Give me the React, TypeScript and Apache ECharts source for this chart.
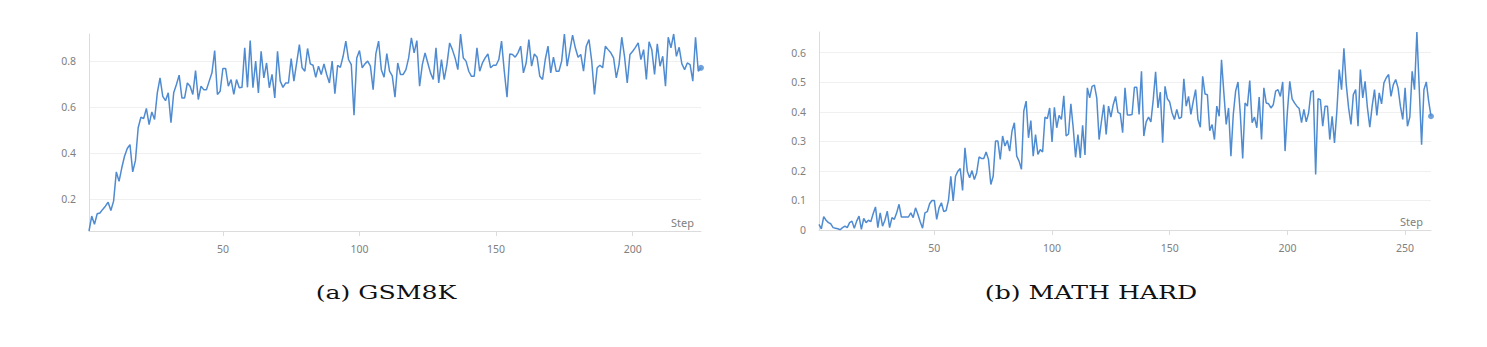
import React, { useEffect, useRef } from "react";
import * as echarts from "echarts";

const gsm8kValues: number[] = [
  0.06, 0.125, 0.089, 0.135, 0.138, 0.154, 0.168, 0.185, 0.149, 0.19,
  0.317, 0.276, 0.335, 0.385, 0.419, 0.436, 0.317, 0.367, 0.509, 0.555,
  0.549, 0.593, 0.523, 0.578, 0.545, 0.661, 0.726, 0.646, 0.627, 0.661,
  0.531, 0.661, 0.697, 0.738, 0.639, 0.639, 0.704, 0.69, 0.654, 0.758,
  0.632, 0.69, 0.675, 0.675, 0.712, 0.748, 0.845, 0.654, 0.668, 0.767,
  0.767, 0.69, 0.719, 0.654, 0.719, 0.683, 0.685, 0.857, 0.685, 0.888,
  0.683, 0.799, 0.661, 0.842, 0.726, 0.791, 0.683, 0.741, 0.639, 0.842,
  0.712, 0.685, 0.704, 0.704, 0.81, 0.712, 0.791, 0.871, 0.77, 0.755,
  0.854, 0.787, 0.781, 0.729, 0.777, 0.741, 0.787, 0.741, 0.704, 0.799,
  0.657, 0.781, 0.772, 0.82, 0.886, 0.806, 0.784, 0.564, 0.813, 0.845,
  0.77, 0.787, 0.799, 0.777, 0.675, 0.832, 0.886, 0.762, 0.729, 0.832,
  0.755, 0.735, 0.642, 0.791, 0.741, 0.741, 0.762, 0.813, 0.9, 0.835,
  0.888, 0.69, 0.784, 0.835, 0.791, 0.748, 0.719, 0.857, 0.704, 0.806,
  0.719, 0.784, 0.878, 0.849, 0.813, 0.762, 0.917, 0.813, 0.799, 0.755,
  0.733, 0.733, 0.857, 0.755, 0.791, 0.813, 0.83, 0.77, 0.781, 0.781,
  0.806, 0.886, 0.755, 0.642, 0.83, 0.828, 0.816, 0.835, 0.864, 0.748,
  0.791, 0.893, 0.777, 0.83, 0.816, 0.733, 0.719, 0.806, 0.864, 0.748,
  0.816, 0.755, 0.755, 0.799, 0.917, 0.777, 0.845, 0.912, 0.857, 0.816,
  0.828, 0.755, 0.864, 0.893, 0.799, 0.654, 0.77, 0.781, 0.77, 0.864,
  0.849, 0.835, 0.813, 0.726, 0.784, 0.903, 0.82, 0.704, 0.828, 0.842,
  0.859, 0.878, 0.806, 0.849, 0.719, 0.883, 0.849, 0.741, 0.874, 0.777,
  0.82, 0.69, 0.903, 0.857, 0.917, 0.82, 0.859, 0.787, 0.762, 0.791,
  0.784, 0.712, 0.903, 0.755, 0.77,
];

const mathHardValues: number[] = [
  0.019, 0.004, 0.045, 0.033, 0.025, 0.021, 0.008, 0.006, 0.004, 0.001,
  0.008, 0.013, 0.008, 0.025, 0.03, 0.006, 0.03, 0.047, 0.002, 0.039,
  0.025, 0.033, 0.028, 0.055, 0.078, 0.008, 0.058, 0.013, 0.033, 0.064,
  0.008, 0.042, 0.036, 0.058, 0.087, 0.044, 0.044, 0.044, 0.044, 0.058,
  0.042, 0.075, 0.053, 0.028, 0.006, 0.058, 0.062, 0.089, 0.1, 0.1,
  0.036, 0.075, 0.092, 0.062, 0.066, 0.1, 0.182, 0.098, 0.182, 0.199,
  0.208, 0.134, 0.278, 0.199, 0.177, 0.201, 0.171, 0.194, 0.247, 0.242,
  0.242, 0.264, 0.239, 0.154, 0.182, 0.301, 0.301, 0.239, 0.318, 0.284,
  0.303, 0.267, 0.335, 0.363, 0.25, 0.233, 0.205, 0.402, 0.436, 0.312,
  0.37, 0.25, 0.323, 0.256, 0.272, 0.264, 0.382, 0.377, 0.413, 0.298,
  0.415, 0.346, 0.388, 0.374, 0.454, 0.318, 0.325, 0.427, 0.346, 0.246,
  0.323, 0.244, 0.354, 0.254, 0.481, 0.447, 0.486, 0.49, 0.447, 0.306,
  0.368, 0.424, 0.323, 0.419, 0.382, 0.424, 0.452, 0.398, 0.394, 0.329,
  0.481, 0.389, 0.389, 0.391, 0.483, 0.483, 0.391, 0.537, 0.318, 0.366,
  0.382, 0.366, 0.441, 0.535, 0.413, 0.467, 0.295, 0.486, 0.444, 0.433,
  0.396, 0.374, 0.408, 0.377, 0.382, 0.512, 0.419, 0.452, 0.391, 0.436,
  0.475, 0.374, 0.348, 0.52, 0.46, 0.458, 0.336, 0.357, 0.306, 0.419,
  0.385, 0.576, 0.464, 0.357, 0.413, 0.25, 0.391, 0.47, 0.501, 0.391,
  0.242, 0.43, 0.419, 0.506, 0.363, 0.382, 0.346, 0.45, 0.306, 0.481,
  0.43, 0.427, 0.413, 0.424, 0.47, 0.475, 0.452, 0.501, 0.267, 0.402,
  0.503, 0.444, 0.43, 0.419, 0.411, 0.363, 0.408, 0.366, 0.396, 0.467,
  0.472, 0.188, 0.444, 0.441, 0.351, 0.419, 0.419, 0.306, 0.385, 0.295,
  0.402, 0.543, 0.475, 0.615, 0.492, 0.413, 0.357, 0.458, 0.475, 0.351,
  0.543, 0.447, 0.503, 0.413, 0.348, 0.419, 0.475, 0.388, 0.464, 0.427,
  0.498, 0.515, 0.526, 0.452, 0.492, 0.509, 0.481, 0.419, 0.374, 0.481,
  0.351, 0.382, 0.537, 0.475, 0.67, 0.481, 0.289, 0.475, 0.501, 0.436,
  0.385,
];

const gsm8kXTicks = [50, 100, 150, 200];
const mathHardXTicks = [50, 100, 150, 200, 250];
const gsm8kYTicks = [0.2, 0.4, 0.6, 0.8];
const mathHardYTicks = [0, 0.1, 0.2, 0.3, 0.4, 0.5, 0.6];
const captions = ["(a) GSM8K", "(b) MATH HARD"];
const xAxisName = "Step";

const LINE_COLOR = "#4f8bd1";
const AXIS_COLOR = "#dcdcdc";
const SPLIT_COLOR = "#f0f0f0";
const LABEL_COLOR = "#808080";
const LABEL_FONT = "'Noto Sans', 'Open Sans', sans-serif";

function toPoints(values: number[]): [number, number][] {
  return values.map((v, i) => [i + 1, v]);
}

function makeXAxis(gridIndex: number, count: number, ticks: number[]) {
  return {
    type: "value",
    gridIndex,
    min: 1,
    max: count,
    axisLine: { show: true, lineStyle: { color: AXIS_COLOR, width: 1 } },
    axisTick: {
      show: true,
      length: 5,
      customValues: ticks,
      lineStyle: { color: AXIS_COLOR },
    },
    axisLabel: {
      customValues: ticks,
      color: LABEL_COLOR,
      fontSize: 10.5,
      fontFamily: LABEL_FONT,
      margin: 12,
    },
    splitLine: { show: false },
  };
}

function makeYAxis(gridIndex: number, min: any, ticks: number[]) {
  return {
    type: "value",
    gridIndex,
    min,
    max: "dataMax",
    splitNumber: 5,
    axisLine: { show: true, lineStyle: { color: AXIS_COLOR, width: 1 } },
    axisTick: { show: false },
    axisLabel: {
      customValues: ticks,
      color: LABEL_COLOR,
      fontSize: 10.5,
      fontFamily: LABEL_FONT,
      margin: 13,
      formatter: (v: number) => String(Math.round(v * 10) / 10),
    },
    splitLine: {
      show: true,
      showMinLine: false,
      showMaxLine: false,
      lineStyle: { color: SPLIT_COLOR, width: 1 },
    },
  };
}

function lineSeries(index: number, values: number[]) {
  return {
    type: "line",
    xAxisIndex: index,
    yAxisIndex: index,
    data: toPoints(values),
    showSymbol: false,
    symbol: "none",
    lineStyle: { color: LINE_COLOR, width: 1.5 },
    itemStyle: { color: LINE_COLOR },
    z: 3,
  };
}

function endDot(index: number, values: number[]) {
  const pts = toPoints(values);
  return {
    type: "scatter",
    xAxisIndex: index,
    yAxisIndex: index,
    data: [pts[pts.length - 1]],
    symbol: "circle",
    symbolSize: 6,
    itemStyle: { color: LINE_COLOR },
    z: 4,
  };
}

export default function App() {
  const ref = useRef<HTMLDivElement>(null);

  useEffect(() => {
    if (!ref.current) return;
    const chart = echarts.init(ref.current, null, { renderer: "svg" });
    const option: any = {
      animation: false,
      backgroundColor: "#ffffff",
      grid: [
        { left: 89, top: 34, width: 612, height: 197 },
        { left: 819, top: 32, width: 612, height: 198 },
      ],
      xAxis: [
        makeXAxis(0, gsm8kValues.length, gsm8kXTicks),
        makeXAxis(1, mathHardValues.length, mathHardXTicks),
      ],
      yAxis: [makeYAxis(0, "dataMin", gsm8kYTicks), makeYAxis(1, 0, mathHardYTicks)],
      series: [
        lineSeries(0, gsm8kValues),
        lineSeries(1, mathHardValues),
        endDot(0, gsm8kValues),
        endDot(1, mathHardValues),
      ],
      graphic: [
        {
          type: "text",
          x: 694,
          y: 222,
          style: {
            text: xAxisName,
            fill: LABEL_COLOR,
            font: `11px ${LABEL_FONT}`,
            textAlign: "right",
            textVerticalAlign: "middle",
          },
        },
        {
          type: "text",
          x: 1423,
          y: 221,
          style: {
            text: xAxisName,
            fill: LABEL_COLOR,
            font: `11px ${LABEL_FONT}`,
            textAlign: "right",
            textVerticalAlign: "middle",
          },
        },
        {
          type: "text",
          x: 386,
          y: 293,
          scaleX: 1.4,
          style: {
            text: captions[0],
            fill: "#111111",
            font: "18px 'DejaVu Serif', serif",
            textAlign: "center",
            textVerticalAlign: "middle",
          },
        },
        {
          type: "text",
          x: 1091,
          y: 293,
          scaleX: 1.4,
          style: {
            text: captions[1],
            fill: "#111111",
            font: "18px 'DejaVu Serif', serif",
            textAlign: "center",
            textVerticalAlign: "middle",
          },
        },
      ],
    };
    chart.setOption(option);
    return () => chart.dispose();
  }, []);

  return (
    <div
      ref={ref}
      style={{
        position: "absolute",
        left: 0,
        top: 0,
        width: 1487,
        height: 347,
        background: "#fff",
      }}
    />
  );
}
